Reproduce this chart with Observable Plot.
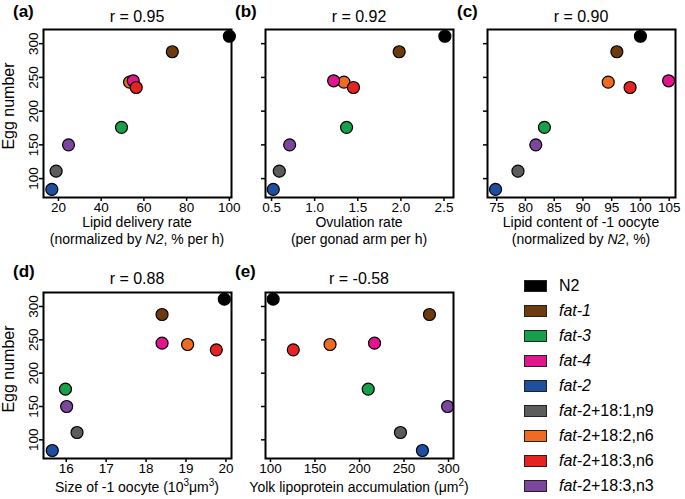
<!DOCTYPE html>
<html><head><meta charset="utf-8">
<script src="https://cdn.jsdelivr.net/npm/d3@7"></script>
<script src="https://cdn.jsdelivr.net/npm/@observablehq/plot@0.6"></script>
<style>
body{margin:0;background:#fff;font-family:"Liberation Sans",Arial,sans-serif;color:#000;}
#root{position:relative;width:685px;height:499px;overflow:hidden;}
.abs{position:absolute;white-space:nowrap;}
.ctr{transform:translateX(-50%);text-align:center;}
.letter{font-weight:bold;font-size:17px;line-height:18px;}
.title{font-size:16px;line-height:18px;}
.xlab{font-size:14px;line-height:17px;}
.ylab{font-size:16px;line-height:18px;transform:translate(-50%,-50%) rotate(-90deg);}
.leg{font-size:16px;line-height:18px;}
.sw{position:absolute;width:21px;height:10px;border:1px solid #222;}
</style></head><body><div id="root"></div>
<script>
// ---- data ----
const strains = ["N2","fat-1","fat-3","fat-4","fat-2","fat-2+18:1,n9","fat-2+18:2,n6","fat-2+18:3,n6","fat-2+18:3,n3"];
const strainLabels = ["N2","<i>fat-1</i>","<i>fat-3</i>","<i>fat-4</i>","<i>fat-2</i>","<i>fat-</i>2+18:1,n9","<i>fat-</i>2+18:2,n6","<i>fat-</i>2+18:3,n6","<i>fat-</i>2+18:3,n3"];
const strainColors = ["#000000","#6e3b0f","#17a04a","#e3158c","#1d4ea0","#5c5c5c","#f06a22","#e52421","#7b469c"];
const eggNumber = [311,288,176,245,84,111,243,235,150];
const lipidDelivery = [100,73.3,49.5,55,16.9,18.9,53.3,56.4,24.7];
const ovulationRate = [2.51,1.98,1.37,1.22,0.52,0.59,1.34,1.45,0.71];
const lipidContent = [100,95.9,83.3,104.9,74.8,78.7,94.4,98.2,81.8];
const oocyteSize = [19.96,18.4,15.98,18.4,15.65,16.27,19.04,19.76,16.01];
const yolkAccum = [103,278.6,209.8,216.9,270.7,246,166.9,125.6,299];
const drawOrder = ["N2","fat-1","fat-3","fat-2","fat-2+18:1,n9","fat-2+18:2,n6","fat-4","fat-2+18:3,n6","fat-2+18:3,n3"];

const eggTicks = [100,150,200,250,300];
const panelLetters = ["(a)","(b)","(c)","(d)","(e)"];
const rValues = ["r = 0.95","r = 0.92","r = 0.90","r = 0.88","r = -0.58"];
const xLabels = [
  "Lipid delivery rate<br>(normalized by <i>N2</i>, % per h)",
  "Ovulation rate<br>(per gonad arm per h)",
  "Lipid content of -1 oocyte<br>(normalized by <i>N2</i>, %)",
  "Size of -1 oocyte (10<sup style='font-size:10px;line-height:0'>3</sup>μm<sup style='font-size:10px;line-height:0'>3</sup>)",
  "Yolk lipoprotein accumulation (μm<sup style='font-size:10px;line-height:0'>2</sup>)"
];
const xValues = [lipidDelivery, ovulationRate, lipidContent, oocyteSize, yolkAccum];
const xTicks = [[20,40,60,80,100],[0.5,1.0,1.5,2.0,2.5],[75,80,85,90,95,100,105],[16,17,18,19,20],[100,150,200,250,300]];
const xFormats = [d3.format("d"), d3.format(".1f"), d3.format("d"), d3.format("d"), d3.format("d")];
const xDomains = [[13,101],[0.43,2.61],[73.4,106.1],[15.43,20.14],[94.4,305.6]];
const yDomain = [72,321];

// ---- layout ----
const root = document.getElementById("root");
const W = 236, ML = 43, MR = 5;
const rowsLayout = [
  {top:0, height:250, mt:29, mb:53, letterY:3, titleY:8, xlabY:214, ylabY:106},
  {top:250, height:249, mt:42, mb:41, letterY:263, titleY:270, xlabY:479, ylabY:369}
];
const colLeft = [0,222,444];
const panelPos = [[0,0],[0,1],[0,2],[1,0],[1,1]];

function addDiv(cls, html, left, top){
  const d = document.createElement("div");
  d.className = "abs " + cls;
  d.innerHTML = html;
  d.style.left = left + "px";
  d.style.top = top + "px";
  root.appendChild(d);
  return d;
}

panelPos.forEach(([r,c], i) => {
  const L = rowsLayout[r];
  const left = colLeft[c];
  const showY = c === 0;
  const data = drawOrder.map(name => {
    const k = strains.indexOf(name);
    return {strain: name, x: xValues[i][k], y: eggNumber[k], color: strainColors[k]};
  });
  const svg = Plot.plot({
    width: W, height: L.height,
    marginLeft: ML, marginRight: MR, marginTop: L.mt, marginBottom: L.mb,
    style: {fontFamily: "'Liberation Sans', Arial, sans-serif", fontSize: "13.5px", color: "#000", background: "transparent", overflow: "visible"},
    x: {domain: xDomains[i]},
    y: {domain: yDomain},
    marks: [
      Plot.axisX({ticks: xTicks[i], tickFormat: xFormats[i], tickSize: 4, tickPadding: 1, label: null, strokeWidth: 1.5, fontSize: 13.5}),
      Plot.axisY({ticks: eggTicks, tickFormat: showY ? d3.format("d") : () => "", tickSize: 4, tickPadding: 2, tickRotate: -90, label: null, strokeWidth: 1.5, fontSize: 13.5}),
      Plot.dot(data, {x: "x", y: "y", r: 6, fill: "color", stroke: "#000", strokeWidth: 1.2}),
      Plot.frame({stroke: "#000", strokeWidth: 2})
    ]
  });
  svg.style.position = "absolute";
  svg.style.left = left + "px";
  svg.style.top = L.top + "px";
  root.appendChild(svg);

  const cx = left + ML + (W - ML - MR) / 2;
  addDiv("letter", panelLetters[i], left + 13, L.letterY);
  addDiv("title ctr", rValues[i], cx, L.titleY);
  addDiv("xlab ctr", xLabels[i], cx, L.xlabY);
  if (showY) addDiv("ylab", "Egg number", 9, L.ylabY);
});

// legend
strains.forEach((s, k) => {
  const y = 285.7 + 25 * k;
  const sw = document.createElement("div");
  sw.className = "sw";
  sw.style.left = "524px";
  sw.style.top = (y - 6) + "px";
  sw.style.background = strainColors[k];
  root.appendChild(sw);
  addDiv("leg", strainLabels[k], 559, y - 9);
});
</script>
</body></html>
